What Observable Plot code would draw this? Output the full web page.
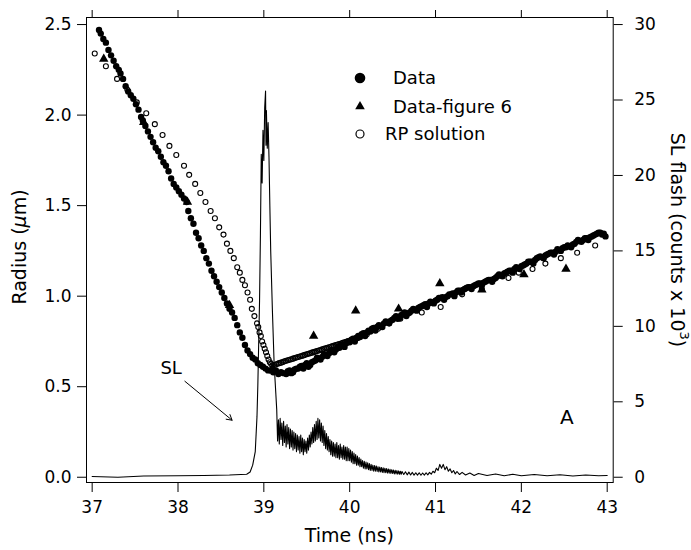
<!DOCTYPE html>
<html>
<head>
<meta charset="utf-8">
<script src="https://cdn.jsdelivr.net/npm/d3@7"></script>
<script src="https://cdn.jsdelivr.net/npm/@observablehq/plot@0.6"></script>
<style>
  html, body { margin: 0; padding: 0; background: #fff; }
  #chart { width: 691px; height: 550px; }
</style>
</head>
<body>
<div id="chart"></div>
<script>
// ---------- DATA ----------
const xTicks = [37, 38, 39, 40, 41, 42, 43];
const radiusTicks = [0, 0.5, 1.0, 1.5, 2.0, 2.5];
const flashTicks = [0, 5, 10, 15, 20, 25, 30];
const flashPerRadius = 12; // right axis 30 = left axis 2.5

// Data (filled circles): [time ns, radius um]
const dataPoints = [
[37.08,2.47],[37.10,2.45],[37.13,2.42],[37.16,2.40],[37.19,2.36],[37.22,2.33],[37.25,2.30],[37.28,2.27],
[37.31,2.25],[37.33,2.23],[37.36,2.20],[37.39,2.16],[37.42,2.13],[37.45,2.11],[37.48,2.09],[37.51,2.06],
[37.54,2.03],[37.57,1.99],[37.59,1.97],[37.62,1.94],[37.65,1.91],[37.68,1.88],[37.71,1.85],[37.74,1.82],
[37.77,1.80],[37.80,1.77],[37.83,1.74],[37.86,1.72],[37.89,1.69],[37.92,1.65],[37.95,1.62],[37.98,1.60],
[38.01,1.58],[38.04,1.56],[38.07,1.54],[38.10,1.52],[38.12,1.47],[38.15,1.43],[38.18,1.40],[38.21,1.35],
[38.24,1.32],[38.27,1.28],[38.30,1.25],[38.33,1.21],[38.36,1.18],[38.39,1.14],[38.42,1.11],[38.45,1.08],
[38.48,1.05],[38.51,1.02],[38.54,0.99],[38.57,0.96],[38.60,0.93],[38.63,0.91],[38.66,0.88],[38.69,0.84],
[38.72,0.80],[38.75,0.77],[38.78,0.73],[38.81,0.70],[38.84,0.68],[38.87,0.66],[38.90,0.65],[38.93,0.63],
[38.96,0.62],[38.99,0.61],[39.02,0.60],[39.05,0.59],[39.08,0.59],[39.11,0.58],[39.14,0.59],[39.17,0.57],
[39.20,0.58],[39.23,0.575],[39.26,0.57],[39.30,0.59],[39.34,0.58],[39.38,0.60],[39.42,0.61],[39.46,0.60],
[39.50,0.63],[39.54,0.62],[39.58,0.64],[39.62,0.66],[39.66,0.65],[39.70,0.68],[39.74,0.67],[39.78,0.70],
[39.82,0.69],[39.86,0.72],[39.90,0.73],[39.94,0.72],[39.98,0.75],[40.02,0.76],[40.06,0.75],[40.10,0.78],
[40.14,0.79],[40.18,0.78],[40.22,0.81],[40.26,0.82],[40.30,0.81],[40.34,0.84],[40.38,0.83],[40.42,0.86],
[40.46,0.85],[40.50,0.87],[40.54,0.89],[40.58,0.88],[40.62,0.90],[40.66,0.89],[40.70,0.91],[40.74,0.93],
[40.78,0.92],[40.82,0.94],[40.86,0.95],[40.90,0.94],[40.94,0.97],[40.98,0.96],[41.02,0.98],[41.06,0.99],
[41.10,0.98],[41.14,1.00],[41.18,1.01],[41.22,1.00],[41.26,1.03],[41.30,1.02],[41.34,1.04],[41.38,1.05],
[41.42,1.04],[41.46,1.06],[41.50,1.07],[41.54,1.06],[41.58,1.08],[41.62,1.09],[41.66,1.08],[41.70,1.10],
[41.74,1.12],[41.78,1.11],[41.82,1.13],[41.86,1.14],[41.90,1.13],[41.94,1.16],[41.98,1.15],[42.02,1.17],
[42.06,1.18],[42.10,1.19],[42.14,1.18],[42.18,1.21],[42.22,1.22],[42.26,1.21],[42.30,1.23],[42.34,1.24],
[42.38,1.23],[42.42,1.26],[42.46,1.25],[42.50,1.27],[42.54,1.28],[42.58,1.27],[42.62,1.29],[42.66,1.31],
[42.70,1.30],[42.74,1.32],[42.78,1.31],[42.82,1.33],[42.86,1.34],[42.90,1.35],[42.94,1.34],[42.98,1.33],
[39.28,0.585],[39.32,0.575],[39.36,0.595],[39.40,0.60],[39.44,0.615],[39.48,0.62],[39.52,0.61],[39.56,0.635],
[39.60,0.645],[39.64,0.655],[39.68,0.665],[39.72,0.675],[39.76,0.685],[39.80,0.70],[39.84,0.705],[39.88,0.715],
[39.92,0.73],[39.96,0.74],[40.00,0.745],[40.04,0.765],[40.08,0.77],[40.12,0.775],[40.16,0.795],[40.20,0.80],
[40.24,0.805],[40.28,0.825],[40.32,0.83],[40.36,0.835],[40.40,0.85],[40.44,0.855],[40.48,0.865],[40.52,0.88],
[40.56,0.875],[40.60,0.895],[40.64,0.91],[40.68,0.905],[40.72,0.92],[40.76,0.925],[40.80,0.935],[40.84,0.945],
[40.88,0.955],[40.92,0.96],[40.96,0.965],[41.00,0.975],[41.04,0.99],[41.08,0.995],[41.12,0.995],[41.16,1.01],
[41.20,1.015],[41.24,1.02],[41.28,1.03],[41.32,1.035],[41.36,1.045],[41.40,1.05],[41.44,1.055],[41.48,1.065],
[41.52,1.07],[41.56,1.075],[41.60,1.085],[41.64,1.09],[41.68,1.095],[41.72,1.11],[41.76,1.115],[41.80,1.125],
[41.84,1.135],[41.88,1.14],[41.92,1.15],[41.96,1.155],[42.00,1.165],[42.04,1.175],[42.08,1.19],[42.12,1.19],
[42.16,1.20],[42.20,1.215],[42.24,1.215],[42.28,1.225],[42.32,1.235],[42.36,1.24],[42.40,1.245],[42.44,1.255],
[42.48,1.265],[42.52,1.27],[42.56,1.275],[42.60,1.285],[42.64,1.30],[42.68,1.305],[42.72,1.31],[42.76,1.32],
[42.80,1.325],[42.84,1.335],[42.88,1.345],[42.92,1.35],[42.96,1.345]
];

// Data-figure 6 (triangles)
const figure6Points = [
[37.135,2.31],[37.60,1.96],[38.11,1.52],[38.60,0.95],[39.10,0.60],[39.58,0.78],[40.07,0.92],
[40.57,0.93],[41.05,1.07],[41.54,1.035],[42.03,1.12],[42.52,1.15]
];

// RP solution (open circles)
const rpPoints = [
[37.03,2.34],[37.16,2.27],[37.29,2.20],[37.41,2.14],[37.52,2.07],[37.63,2.01],[37.73,1.95],[37.82,1.89],
[37.90,1.83],[37.98,1.78],[38.07,1.72],[38.13,1.67],[38.20,1.62],[38.26,1.57],[38.32,1.52],[38.38,1.47],
[38.43,1.43],[38.48,1.38],[38.53,1.34],[38.57,1.29],[38.61,1.25],[38.65,1.21],[38.69,1.16],[38.72,1.13],
[38.75,1.09],[38.78,1.06],[38.81,1.02],[38.84,0.98],[38.86,0.93],[38.89,0.89],[38.92,0.85],[38.935,0.83],
[38.95,0.80],[38.965,0.78],[38.98,0.75],[38.995,0.73],[39.01,0.71],[39.025,0.69],[39.04,0.67],[39.055,0.65],
[39.07,0.635],[39.085,0.625],[39.10,0.618],[39.12,0.62],[39.14,0.623],[39.16,0.627],[39.18,0.63],[39.20,0.633],
[39.22,0.636],[39.24,0.64],[39.26,0.643],[39.28,0.646],[39.30,0.649],[39.32,0.652],[39.34,0.655],[39.36,0.658],
[39.38,0.661],[39.40,0.664],[39.42,0.667],[39.44,0.67],[39.46,0.673],[39.48,0.676],[39.50,0.679],[39.52,0.682],
[39.54,0.685],[39.56,0.688],[39.58,0.691],[39.60,0.694],[39.62,0.697],[39.64,0.70],[39.66,0.703],[39.68,0.706],
[39.70,0.709],[39.72,0.712],[39.74,0.715],[39.76,0.718],[39.78,0.721],[39.80,0.724],[39.82,0.727],[39.84,0.73],
[39.86,0.733],[39.88,0.736],[39.90,0.739],[39.92,0.742],[39.94,0.745],[39.96,0.748],[39.98,0.751],[40.00,0.754],
[40.02,0.757],[40.04,0.76],[40.06,0.763],[40.08,0.766],[40.10,0.769],[40.20,0.79],[40.33,0.82],[40.46,0.85],
[40.59,0.875],[40.84,0.91],[41.06,0.94],[41.31,1.01],[41.54,1.04],[41.85,1.10],[41.97,1.13],[42.13,1.15],
[42.28,1.18],[42.46,1.21],[42.65,1.24],[42.86,1.28]
];

// SL flash trace: [time ns, counts x 10^3]
const slFlash = [
[37.0,0.05],[37.3,0.0],[37.6,0.08],[38.0,0.1],[38.3,0.12],[38.6,0.15],[38.8,0.2],[38.84,0.35],[38.87,0.8],
[38.90,1.7],[38.92,4.0],[38.93,6.1],[38.95,11.7],[38.96,16.0],[38.97,21.4],[38.98,19.5],[38.99,23.0],
[39.00,21.0],[39.01,24.5],[39.02,25.6],[39.025,22.0],[39.03,24.3],[39.04,21.8],[39.05,23.5],[39.06,21.2],
[39.07,18.0],[39.08,15.0],[39.10,11.0],[39.12,7.5],[39.14,5.5],
[39.15,4.5],[39.16,2.4],[39.17,3.8],[39.18,2.2],[39.19,3.9],[39.20,2.5],[39.21,3.6],[39.22,2.1],[39.23,3.7],
[39.24,2.3],[39.25,3.4],[39.26,2.0],[39.27,3.5],[39.28,2.2],[39.29,3.3],[39.30,1.9],[39.31,3.2],[39.32,2.0],
[39.33,3.1],[39.34,1.8],[39.35,3.0],[39.36,1.9],[39.37,2.9],[39.38,1.7],[39.39,2.8],[39.40,1.8],[39.41,2.7],
[39.42,1.6],[39.43,2.8],[39.44,1.7],[39.45,2.6],[39.46,1.5],[39.47,2.5],[39.48,1.7],[39.49,2.4],[39.50,1.6],
[39.51,2.6],[39.52,1.8],[39.53,2.8],[39.54,2.0],[39.55,3.0],[39.56,2.2],[39.57,3.3],[39.58,2.3],[39.59,3.5],
[39.60,2.4],[39.61,3.7],[39.62,2.5],[39.63,3.9],[39.64,2.6],[39.65,3.8],[39.66,2.4],[39.67,3.6],[39.68,2.3],
[39.69,3.4],[39.70,2.1],[39.71,3.1],[39.72,1.9],[39.73,2.9],[39.74,1.8],[39.75,2.7],[39.76,1.7],[39.77,2.5],
[39.78,1.5],[39.79,2.4],[39.80,1.4],[39.81,2.3],[39.82,1.4],[39.83,2.2],[39.84,1.3],[39.85,2.3],[39.86,1.3],
[39.87,2.1],[39.88,1.2],[39.89,2.2],[39.90,1.3],[39.91,2.0],[39.92,1.2],[39.93,2.1],[39.94,1.2],[39.95,2.0],
[39.96,1.1],[39.97,2.0],[39.98,1.1],[39.99,1.9],[40.00,1.1],[40.01,1.8],[40.02,1.0],[40.03,1.7],[40.04,0.9],
[40.05,1.6],[40.06,0.9],[40.07,1.5],[40.08,0.8],[40.09,1.4],[40.10,0.8],[40.11,1.3],[40.12,0.7],[40.13,1.2],
[40.14,0.7],[40.15,1.1],[40.16,0.6],[40.17,1.05],[40.18,0.55],[40.19,1.0],[40.20,0.55],[40.21,0.95],
[40.22,0.5],[40.23,0.9],[40.24,0.45],[40.25,0.85],[40.26,0.45],[40.27,0.8],[40.28,0.4],[40.29,0.78],
[40.30,0.4],[40.31,0.75],[40.32,0.38],[40.33,0.7],[40.34,0.35],[40.35,0.68],[40.36,0.35],[40.37,0.65],
[40.38,0.32],[40.39,0.62],[40.40,0.3],[40.41,0.6],[40.42,0.3],[40.43,0.58],[40.44,0.28],[40.45,0.55],
[40.46,0.27],[40.47,0.52],[40.48,0.25],[40.49,0.5],[40.50,0.25],[40.51,0.48],[40.52,0.22],[40.53,0.46],
[40.54,0.22],[40.55,0.44],[40.56,0.2],[40.57,0.42],[40.58,0.2],[40.59,0.4],[40.60,0.2],[40.61,0.38],
[40.63,0.18],[40.65,0.36],[40.67,0.16],[40.69,0.34],[40.71,0.15],[40.73,0.32],[40.75,0.14],[40.77,0.3],
[40.79,0.14],[40.81,0.3],[40.83,0.13],[40.85,0.28],[40.87,0.14],[40.89,0.3],[40.91,0.16],[40.93,0.32],
[40.95,0.2],[40.97,0.4],[40.99,0.3],[41.01,0.6],[41.03,0.45],[41.05,0.85],[41.07,0.6],[41.09,0.85],
[41.11,0.5],[41.13,0.7],[41.15,0.4],[41.17,0.55],[41.19,0.3],[41.21,0.45],[41.23,0.22],[41.25,0.38],
[41.28,0.18],[41.31,0.32],[41.35,0.15],[41.40,0.28],[41.45,0.12],[41.50,0.25],[41.60,0.12],[41.70,0.22],
[41.80,0.1],[41.90,0.2],[42.00,0.1],[42.15,0.18],[42.30,0.1],[42.45,0.17],[42.60,0.08],[42.75,0.15],
[42.90,0.1],[43.00,0.12]
];

// annotations
const slLabel = [{t: 37.92, r: 0.60, text: "SL"}];
const slArrow = [{t1: 38.08, r1: 0.53, t2: 38.63, r2: 0.315}];
const panelLabel = [{t: 42.53, r: 0.33, text: "A"}];

const legendItems = ["Data", "Data-figure 6", "RP solution"];

// ---------- CHART ----------
const toObj = (a) => a.map(([t, v]) => ({t, v}));
const FONT = "DejaVu Sans, Verdana, sans-serif";

const svg = Plot.plot({
  width: 691,
  height: 550,
  marginLeft: 86,
  marginRight: 78.3,
  marginTop: 17,
  marginBottom: 68,
  style: {fontFamily: FONT, fontSize: "17px", background: "white", color: "black"},
  x: {domain: [36.934, 43.07]},
  y: {domain: [-0.029, 2.539]},
  marks: [
    Plot.line(toObj(slFlash), {x: "t", y: d => d.v / flashPerRadius, stroke: "black", strokeWidth: 1.1}),
    Plot.dot(toObj(rpPoints), {x: "t", y: "v", r: 2.5, stroke: "black", fill: "none", strokeWidth: 1.1}),
    Plot.dot(toObj(dataPoints), {x: "t", y: "v", r: 3.2, fill: "black", stroke: "none"}),
    Plot.dot(toObj(figure6Points), {x: "t", y: "v", r: 3.5, symbol: "triangle", fill: "black", stroke: "none"}),
    Plot.text(slLabel, {x: "t", y: "r", text: "text", fontSize: 18, fill: "black"}),
    Plot.arrow(slArrow, {x1: "t1", y1: "r1", x2: "t2", y2: "r2", stroke: "black", strokeWidth: 1, headLength: 9}),
    Plot.text(panelLabel, {x: "t", y: "r", text: "text", fontSize: 20, fill: "black"}),
    Plot.frame({stroke: "black", strokeWidth: 1}),
    Plot.axisX({anchor: "bottom", ticks: xTicks, tickSize: 10, tickPadding: 8, tickFormat: d => String(d), label: null, fontSize: 17}),
    Plot.axisX({anchor: "top", ticks: xTicks, tickSize: 8, tickFormat: () => "", label: null}),
    Plot.axisY({anchor: "left", ticks: radiusTicks, tickSize: 9, tickPadding: 6, tickFormat: d3.format(".1f"), label: null, fontSize: 17}),
    Plot.axisY({anchor: "right", ticks: flashTicks.map(v => v / flashPerRadius), tickSize: 9, tickPadding: 12,
      tickFormat: d => String(Math.round(d * flashPerRadius)), label: null, fontSize: 17})
  ]
});

document.getElementById("chart").appendChild(svg);

// ---------- TITLES & LEGEND ----------
const s = d3.select(svg);
const g = s.append("g").attr("font-family", FONT).attr("fill", "black");

// x title
g.append("text").attr("x", 349.3).attr("y", 542).attr("text-anchor", "middle")
  .attr("font-size", 19).text("Time (ns)");

// left title
const lt = g.append("text").attr("transform", "translate(26,247) rotate(-90)")
  .attr("text-anchor", "middle").attr("font-size", 19);
lt.append("tspan").text("Radius (");
lt.append("tspan").attr("font-style", "italic").text("\u00b5");
lt.append("tspan").text("m)");

// right title
const rt = g.append("text").attr("transform", "translate(671,240) rotate(90)")
  .attr("text-anchor", "middle").attr("font-size", 19);
rt.append("tspan").text("SL flash (counts x 10");
rt.append("tspan").attr("font-size", 13).attr("dy", -9).text("3");
rt.append("tspan").attr("dy", 9).text(")");

// legend
const lg = g.append("g").attr("font-size", 18).attr("text-anchor", "start");
const rows = [78, 106.5, 134];
lg.append("circle").attr("cx", 360).attr("cy", rows[0]).attr("r", 5.3).attr("fill", "black");
lg.append("path").attr("d", d3.symbol(d3.symbolTriangle, 40)()).attr("transform", `translate(360,${rows[1]})`).attr("fill", "black");
lg.append("circle").attr("cx", 360).attr("cy", rows[2]).attr("r", 4).attr("fill", "white").attr("stroke", "black").attr("stroke-width", 1.2);
const textX = [393, 393, 385];
legendItems.forEach((name, i) => {
  lg.append("text").attr("x", textX[i]).attr("y", rows[i]).attr("dy", "0.36em").attr("text-anchor", "start").text(name);
});
</script>
</body>
</html>
